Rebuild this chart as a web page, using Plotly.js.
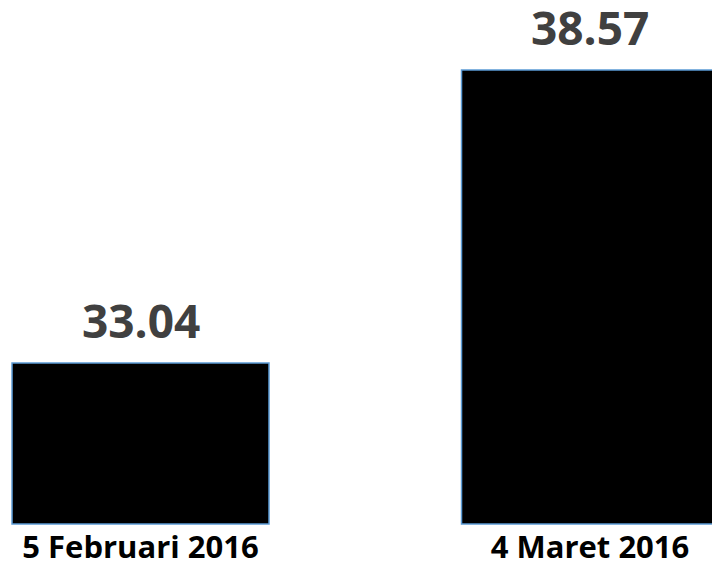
<!DOCTYPE html>
<html>
<head>
<meta charset="utf-8">
<script src="https://cdn.plot.ly/plotly-3.0.1.min.js"></script>
<style>html,body{margin:0;padding:0;background:#fff;}#chart{width:712px;height:562px;}</style>
</head>
<body>
<div id="chart"></div>
<script>
const categories = ["5 Februari 2016", "4 Maret 2016"];
const values = [33.04, 38.57];
const baseValue = 30;

const xpos = categories.map((c, i) => i);

const trace = {
  type: 'bar',
  x: xpos,
  y: values.map(v => v - baseValue),
  base: baseValue,
  width: 0.5717,
  marker: { color: '#000000', line: { color: '#5B9BD5', width: 1.5 } },
  hoverinfo: 'none'
};

const annotations = values.map((v, i) => ({
  x: xpos[i], y: v, xref: 'x', yref: 'y',
  text: v.toFixed(2), showarrow: false,
  yanchor: 'bottom', yshift: 10,
  font: { family: 'Open Sans, sans-serif', size: 46, color: '#404040', weight: 700 }
}));

const layout = {
  width: 712, height: 562,
  margin: { l: 0, r: 0, t: 0, b: 36 },
  paper_bgcolor: '#ffffff', plot_bgcolor: '#ffffff',
  showlegend: false,
  xaxis: {
    range: [-0.3126, 1.2714],
    tickvals: xpos, ticktext: categories,
    ticks: '', showgrid: false, zeroline: false, showline: false,
    tickfont: { family: 'Open Sans, sans-serif', size: 31, color: '#000000', weight: 700 },
    fixedrange: true
  },
  yaxis: {
    range: [29.962, 39.89],
    visible: false, showgrid: false, zeroline: false,
    fixedrange: true
  },
  annotations: annotations
};

Plotly.newPlot('chart', [trace], layout, { staticPlot: true, displayModeBar: false });
</script>
</body>
</html>
